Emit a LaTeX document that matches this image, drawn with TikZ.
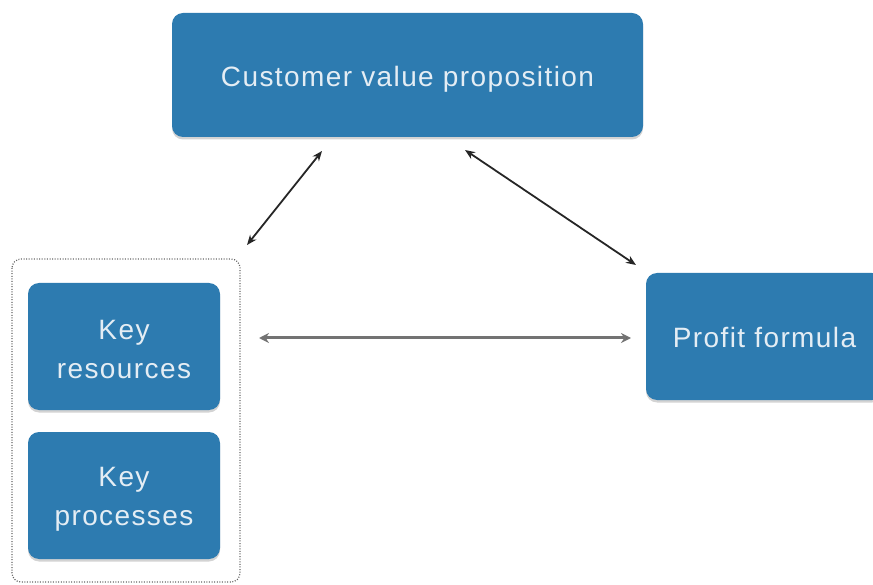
\documentclass[tikz,border=0pt]{standalone}
\usepackage{fontspec}
\setmainfont{Liberation Sans}
\newfontfamily\boxfont[LetterSpace=5]{Liberation Sans}
\usetikzlibrary{shadows,arrows.meta}
\definecolor{boxblue}{RGB}{45,123,176}
\definecolor{boxtext}{RGB}{228,237,244}
% taller first line, which lowers a two-line label a little
\newcommand{\toppad}{\rule{0pt}{26pt}}
\begin{document}
\begin{tikzpicture}[x=1pt,y=-1pt,
  block/.style={draw=none, fill=boxblue, rounded corners=11pt, text=boxtext,
    font=\boxfont\fontsize{28}{39}\selectfont, align=center, inner sep=0pt,
    drop shadow={opacity=0.35, shadow xshift=0pt, shadow yshift=-2.5pt}},
  oneline/.style={text height=23pt, text depth=0pt},
  link/.style={line width=1.8pt, black!85, {Stealth[length=10pt,width=8pt]}-{Stealth[length=10pt,width=8pt]}},
  hlink/.style={line width=3pt, black!55, {Stealth[length=10pt,width=10pt,fill=black!85]}-{Stealth[length=10pt,width=10pt,fill=black!85]}},
  group/.style={draw=black!60, line width=1.2pt, dash pattern=on 1pt off 1.6pt, rounded corners=9pt}]
\useasboundingbox (0,0) rectangle (873,585);

% main blocks
\node[block, oneline, minimum width=471pt, minimum height=124pt] (cvp) at (407.5,75) {Customer value proposition};
\node[block, minimum width=192pt, minimum height=127pt] (res) at (124,346.5) {\toppad Key\\resources};
\node[block, minimum width=192pt, minimum height=127pt] (proc) at (124,495.5) {\toppad Key\\processes};
\node[block, oneline, minimum width=237pt, minimum height=127pt] (pf) at (764.5,336.5) {Profit formula};

% dotted grouping of resources and processes
\draw[group] (12,259) rectangle (240,582);

% connector end points
\coordinate (a1) at (247,245);
\coordinate (a2) at (322,151);
\coordinate (b1) at (465,150);
\coordinate (b2) at (636,265);
\coordinate (c1) at (259,338);
\coordinate (c2) at (631,338);

\draw[link] (a1) -- (a2);
\draw[link] (b1) -- (b2);
\draw[hlink] (c1) -- (c2);
\end{tikzpicture}
\end{document}
